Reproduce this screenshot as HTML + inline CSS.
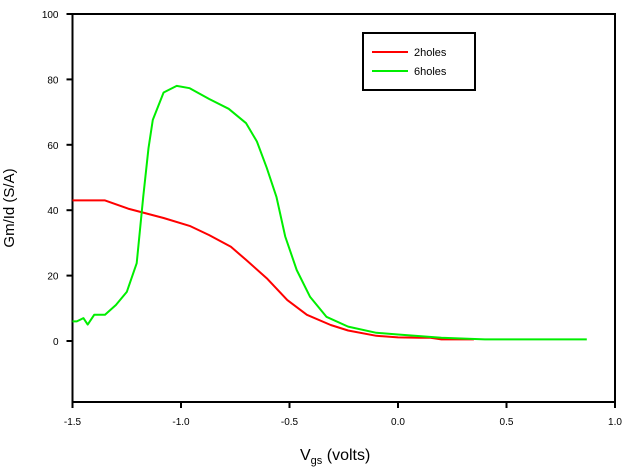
<!DOCTYPE html>
<html><head><meta charset="utf-8"><style>
body{margin:0;background:#fff;}
svg{display:block;font-family:"Liberation Sans",Arial,sans-serif;}
</style></head><body>
<svg id="chart" width="630" height="476">
<g id="axes"></g>
<g id="series"></g>
<text x="14" y="208" font-size="15" text-anchor="middle" transform="rotate(-90 14 208)">Gm/Id (S/A)</text>
<text x="300" y="460" font-size="16">V<tspan font-size="11" dy="4">gs</tspan><tspan dy="-4"> (volts)</tspan></text>
<g>
<rect x="363" y="33" width="112" height="57" fill="#fff" stroke="#000" stroke-width="2"/>
<line x1="372" y1="52" x2="408" y2="52" stroke="#f00" stroke-width="2"/>
<text x="414" y="56" font-size="11">2holes</text>
<line x1="372" y1="71" x2="408" y2="71" stroke="#0e0" stroke-width="2"/>
<text x="414" y="75" font-size="11">6holes</text>
</g>
</svg>
<script>
const xTicks=[-1.5,-1.0,-0.5,0.0,0.5,1.0];
const xTickLabels=["-1.5","-1.0","-0.5","0.0","0.5","1.0"];
const yTicks=[0,20,40,60,80,100];
const yTickLabels=["0","20","40","60","80","100"];
const redX=[-1.5,-1.35,-1.24,-1.08,-0.96,-0.87,-0.77,-0.70,-0.605,-0.51,-0.42,-0.31,-0.23,-0.1,0.0,0.1,0.15,0.2,0.35];
const redY=[43,43,40.4,37.6,35.2,32.4,28.8,24.8,19.2,12.5,8,4.9,3.2,1.6,1.1,1,1,0.5,0.5];
const greenX=[-1.5,-1.48,-1.45,-1.43,-1.4,-1.35,-1.3,-1.25,-1.204,-1.174,-1.15,-1.13,-1.08,-1.02,-0.96,-0.87,-0.78,-0.70,-0.65,-0.605,-0.56,-0.52,-0.467,-0.405,-0.33,-0.23,-0.1,0.0,0.2,0.4,0.87];
const greenY=[6,6,7,5,8,8,11,15,23.8,44,59,67.6,76,78,77.3,74,71,66.6,61,53,44,32,21.7,13.5,7.4,4.4,2.5,2,1,0.5,0.5];
const X0=72.5,X1=615,Y100=14,Y0=341,YB=402;
const sx=v=>X0+(v+1.5)/2.5*(X1-X0);
const sy=v=>Y0-v/100*(Y0-Y100);
const NS="http://www.w3.org/2000/svg";
const ax=document.getElementById('axes');
function mk(t,a,p){const e=document.createElementNS(NS,t);for(const k in a)e.setAttribute(k,a[k]);p.appendChild(e);return e;}
const frame=mk('rect',{x:X0,y:Y100,width:X1-X0,height:YB-Y100,fill:'none',stroke:'#000','stroke-width':2},ax);


xTicks.forEach((v,i)=>{
 const l=mk('line',{x1:sx(v),x2:sx(v),y1:YB,y2:YB+6,stroke:'#000','stroke-width':2},ax);
 
 
 const t=mk('text',{x:sx(v),y:YB+23,'font-size':10,'text-anchor':'middle'},ax);t.textContent=xTickLabels[i];
 
 
});
yTicks.forEach((v,i)=>{
 const l=mk('line',{x1:X0-6,x2:X0,y1:sy(v),y2:sy(v),stroke:'#000','stroke-width':2},ax);
 
 
 const t=mk('text',{x:X0-14,y:sy(v)+4,'font-size':10,'text-anchor':'end'},ax);t.textContent=yTickLabels[i];
 
 
});
const sg=document.getElementById('series');
function line(xs,ys,c,n){
 const d=xs.map((x,i)=>(i?'L':'M')+sx(x).toFixed(1)+' '+sy(ys[i]).toFixed(1)).join(' ');
 const p=mk('path',{d:d,fill:'none',stroke:c,'stroke-width':2,'stroke-linejoin':'round'},sg);
 
 
}
line(redX,redY,'#f00','line-2holes');
line(greenX,greenY,'#0e0','line-6holes');
</script>
</body></html>
